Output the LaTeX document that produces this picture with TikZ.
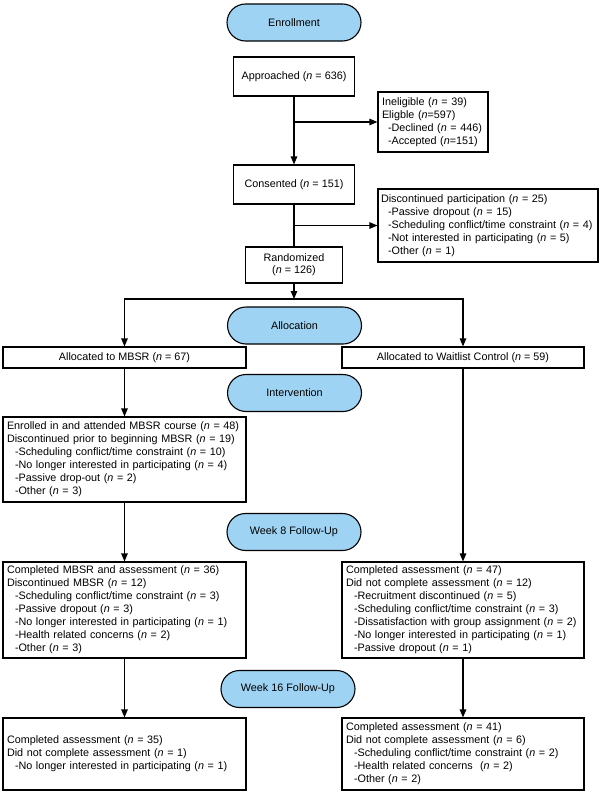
\documentclass[tikz,border=0pt]{standalone}
\usepackage{fontspec}
\setmainfont{Liberation Sans}
\usetikzlibrary{arrows.meta,shapes.misc}
\definecolor{pillc}{RGB}{158,211,243}
\newcommand{\subi}{\hspace*{8pt}}
\newcommand{\nn}{\textit{n}}
\begin{document}
\begin{tikzpicture}[x=1pt,y=-1pt,
  font=\fontsize{10.8}{13}\selectfont,
  line width=1.1pt,
  box/.style={draw, rectangle, inner xsep=4pt, inner ysep=0pt, align=center},
  lbox/.style={draw, rectangle, inner xsep=4pt, inner ysep=0pt, align=left},
  pill/.style={draw, rounded rectangle, fill=pillc, minimum width=134pt, minimum height=37pt, inner sep=0pt},
  arr/.style={-{Triangle[length=8pt,width=6.5pt]}}
]
\useasboundingbox (0,0) rectangle (600,795);

% pills
\node[pill] (enr) at (294,22.5) {Enrollment};
\node[pill] (alloc) at (294.5,325.5) {Allocation};
\node[pill] (interv) at (294.5,393) {Intervention};
\node[pill] (wk8) at (294,532) {Week 8 Follow-Up};
\node[pill] (wk16) at (288,689) {Week 16 Follow-Up};

% enrollment boxes
\node[box, minimum width=121pt, minimum height=39pt] (app) at (294,76.5) {Approached (\nn{} = 636)};
\node[lbox, text width=102pt, minimum height=60pt] (inel) at (433,122)
  {Ineligible (\nn{} = 39)\\Eligble (\nn=597)\\\hspace*{6pt}-Declined (\nn{} = 446)\\\hspace*{6pt}-Accepted (\nn=151)};
\node[box, minimum width=121pt, minimum height=39pt] (cons) at (294,184.5) {Consented (\nn{} = 151)};
\node[lbox, inner xsep=3pt, text width=214pt, minimum height=73pt] (disc) at (488,225.5)
  {Discontinued participation (\nn{} = 25)\\\hspace*{7pt}-Passive dropout (\nn{} = 15)\\\hspace*{7pt}-Scheduling conflict/time constraint (\nn{} = 4)\\\hspace*{7pt}-Not interested in participating (\nn{} = 5)\\\hspace*{7pt}-Other (\nn{} = 1)};
\node[box, minimum width=97pt, minimum height=36pt, font=\fontsize{10.8}{12}\selectfont] (rand) at (294,265) {Randomized\\(\nn{} = 126)};
\coordinate (split) at (294,299);

% allocation
\node[box, minimum width=243pt, minimum height=21pt] (amb) at (124.5,357.5) {Allocated to MBSR (\nn{} = 67)};
\node[box, minimum width=242pt, minimum height=21pt] (aw) at (463,357.5) {Allocated to Waitlist Control (\nn{} = 59)};

% intervention
\node[lbox, text width=235pt, minimum height=85pt] (enrl) at (124.5,459.5)
  {Enrolled in and attended MBSR course (\nn{} = 48)\\Discontinued prior to beginning MBSR (\nn{} = 19)\\\subi-Scheduling conflict/time constraint (\nn{} = 10)\\\subi-No longer interested in participating (\nn{} = 4)\\\subi-Passive drop-out (\nn{} = 2)\\\subi-Other (\nn{} = 3)};

% week 8
\node[lbox, text width=235pt, minimum height=96pt] (m2) at (124.5,610)
  {Completed MBSR and assessment (\nn{} = 36)\\Discontinued MBSR (\nn{} = 12)\\\subi-Scheduling conflict/time constraint (\nn{} = 3)\\\subi-Passive dropout (\nn{} = 3)\\\subi-No longer interested in participating (\nn{} = 1)\\\subi-Health related concerns (\nn{} = 2)\\\subi-Other (\nn{} = 3)};
\node[lbox, text width=234pt, minimum height=96pt] (w2) at (463,610)
  {Completed assessment (\nn{} = 47)\\Did not complete assessment (\nn{} = 12)\\\subi-Recruitment discontinued (\nn{} = 5)\\\subi-Scheduling conflict/time constraint (\nn{} = 3)\\\subi-Dissatisfaction with group assignment (\nn{} = 2)\\\subi-No longer interested in participating (\nn{} = 1)\\\subi-Passive dropout (\nn{} = 1)};

% week 16
\node[lbox, text width=235pt, minimum height=72pt] (f1) at (124.5,754)
  {Completed assessment (\nn{} = 35)\\Did not complete assessment (\nn{} = 1)\\\subi-No longer interested in participating (\nn{} = 1)};
\node[lbox, text width=234pt, minimum height=72pt] (f2) at (463,754)
  {Completed assessment (\nn{} = 41)\\Did not complete assessment (\nn{} = 6)\\\subi-Scheduling conflict/time constraint (\nn{} = 2)\\\subi-Health related concerns\ \ (\nn{} = 2)\\\subi-Other (\nn{} = 2)};

% connectors
\draw[arr] (app) -- (cons);
\draw[arr] (app.south |- inel.west) -- (inel.west);
\draw (cons) -- (rand);
\draw[arr] (cons.south |- disc.west) -- (disc.west);
\draw[arr] (rand) -- (split);
\draw[arr] (split) -| (amb.north);
\draw[arr] (split) -| (aw.north);
\draw[arr] (amb) -- (enrl);
\draw[arr] (enrl) -- (m2);
\draw[arr] (m2) -- (f1);
\draw[arr] (aw) -- (w2);
\draw[arr] (w2) -- (f2);
\end{tikzpicture}
\end{document}
